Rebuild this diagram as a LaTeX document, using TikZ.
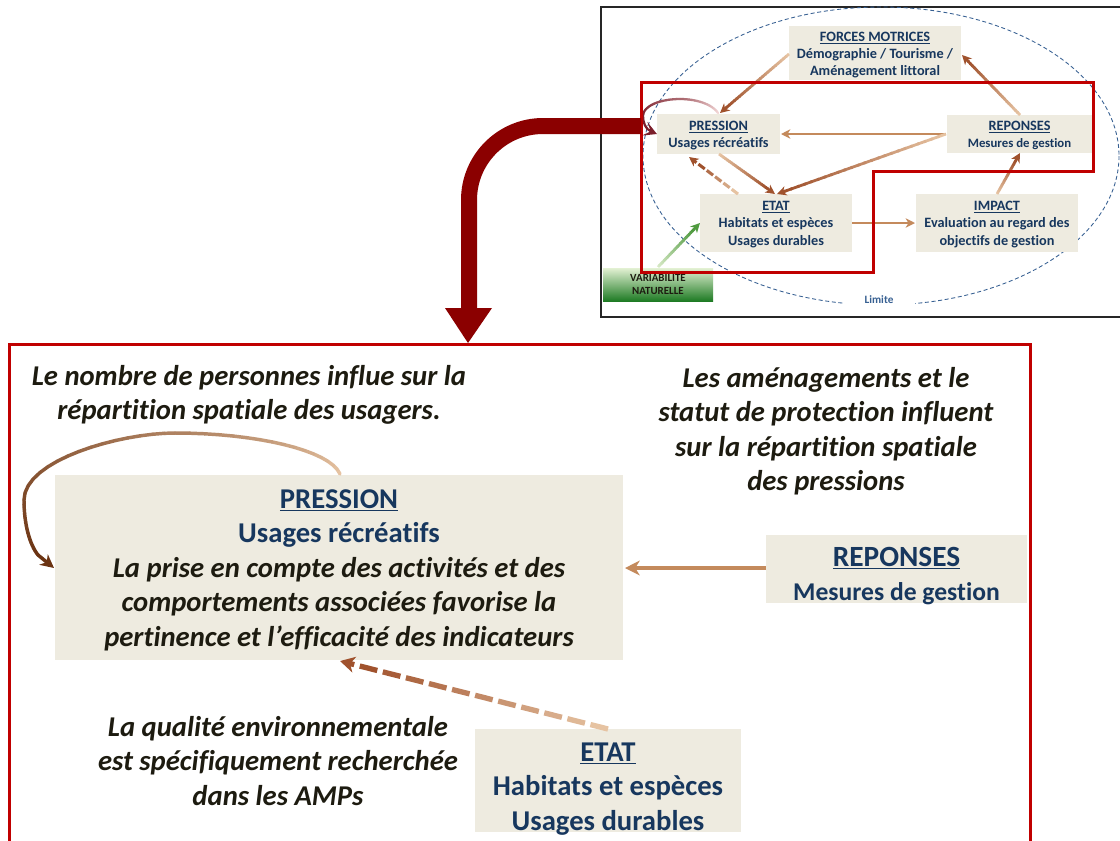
\documentclass[tikz,border=0pt]{standalone}
\usepackage{fontspec}
\setmainfont[Ligatures={NoCommon}]{Carlito}
\usetikzlibrary{calc,arrows.meta}
\definecolor{boxfill}{HTML}{EEEBE0}
\definecolor{navy}{HTML}{17375E}
\definecolor{inkb}{HTML}{1D1B10}
\definecolor{redline}{HTML}{C00000}
\definecolor{bigred}{HTML}{8B0000}
\definecolor{ellblue}{HTML}{376092}
\definecolor{lightbrown}{HTML}{E6C3A2}
\definecolor{darkbrown}{HTML}{A0522D}
\definecolor{deepbrown}{HTML}{6B3312}
\definecolor{midbrown}{HTML}{C48A5C}
\definecolor{paleleaf}{HTML}{D5E8C4}
\definecolor{leaf}{HTML}{4F9A3F}
\definecolor{palepink}{HTML}{F2D6D6}
\definecolor{maroon}{HTML}{7B1F2B}
\definecolor{topgreen}{HTML}{E3F1D3}
\definecolor{botgreen}{HTML}{1E7B24}
\tikzset{
  x=0.75pt,y=-0.75pt,
  panel/.style={fill=boxfill,inner sep=0pt},
  stext/.style={inner sep=0pt,align=center,text=navy,font=\bfseries\fontsize{10.7}{12.9}\selectfont},
  btext/.style={inner sep=0pt,align=center,text=navy,font=\bfseries\fontsize{21.5}{25.9}\selectfont},
  note/.style={inner sep=0pt,align=center,text=inkb,font=\bfseries\itshape\fontsize{21.5}{25.9}\selectfont},
}
\newcommand{\titre}[1]{\underline{#1}}
\newcommand{\gradarrow}[7]{% from,to,light,dark,width,tiplen,tipwidth
  \coordinate (tl) at ($(#2)!#6!(#1)$);
  \foreach \i in {0,...,23}{
    \pgfmathtruncatemacro{\p}{100*\i/23}
    \pgfmathsetmacro{\s}{\i/24}
    \pgfmathsetmacro{\e}{(\i+1.3)/24}
    \draw[line width=#5,draw=#4!\p!#3] ($(#1)!\s!(tl)$) -- ($(#1)!\e!(tl)$);
  }
  \draw[line width=#5,draw=#4,-{Stealth[length=#6,width=#7,inset=0.3*#6]}] (tl) -- (#2);
}
\newcommand{\dashgrad}[8]{% from,to,light,dark,width,tiplen,tipwidth,count
  \coordinate (tl) at ($(#2)!#6!(#1)$);
  \pgfmathtruncatemacro{\last}{#8-1}
  \foreach \i in {0,...,\last}{
    \pgfmathtruncatemacro{\p}{100*\i/\last}
    \pgfmathsetmacro{\s}{\i/#8}
    \pgfmathsetmacro{\e}{(\i+0.76)/#8}
    \draw[line width=#5,draw=#4!\p!#3] ($(#1)!\s!(tl)$) -- ($(#1)!\e!(tl)$);
  }
  \draw[line width=#5,draw=#4,-{Stealth[length=#6,width=#7,inset=0.3*#6]}] (tl) -- (#2);
}
% one cubic piece of a curve, colour from pct A to pct B
\newcommand{\bezpiece}[9]{%
  \foreach \i in {0,...,15}{
    \pgfmathsetmacro{\ta}{\i/16}
    \pgfmathsetmacro{\tb}{(\i+1)/16}
    \pgfmathtruncatemacro{\p}{\curvea+(\curveb-\curvea)*\i/15}
    \pgfmathsetmacro{\xa}{(1-\ta)^3*#1+3*(1-\ta)^2*\ta*#3+3*(1-\ta)*\ta^2*#5+\ta^3*#7}
    \pgfmathsetmacro{\ya}{(1-\ta)^3*#2+3*(1-\ta)^2*\ta*#4+3*(1-\ta)*\ta^2*#6+\ta^3*#8}
    \pgfmathsetmacro{\xb}{(1-\tb)^3*#1+3*(1-\tb)^2*\tb*#3+3*(1-\tb)*\tb^2*#5+\tb^3*#7}
    \pgfmathsetmacro{\yb}{(1-\tb)^3*#2+3*(1-\tb)^2*\tb*#4+3*(1-\tb)*\tb^2*#6+\tb^3*#8}
    \draw[line width=#9,line cap=round,draw=\curved!\p!\curvel] (\xa,\ya) -- (\xb,\yb);
  }
}
\begin{document}
\begin{tikzpicture}
\useasboundingbox (0,0) rectangle (1120,840);
\clip (0,0) rectangle (1120,840);
\fill[white] (0,0) rectangle (1120,840);

% inset
\draw[line width=1.1pt,draw=black!85] (601,7) rectangle (1126,317);
\draw[densely dashed,ellblue,line width=0.65pt] (881,156) ellipse [x radius=238,y radius=149];
\node[fill=white,inner sep=0pt,minimum width=54pt,minimum height=16.5pt,text=ellblue,font=\bfseries\fontsize{8.4}{9}\selectfont] (limite) at (879,300) {Limite};

\node[panel,minimum width=129pt,minimum height=40.5pt] (fm) at (875,53) {};
\node[stext] (fmt) at (875,55) {\titre{FORCES MOTRICES}\\Démographie / Tourisme /\\Aménagement littoral};
\node[panel,minimum width=92pt,minimum height=30pt] (ps) at (718.5,134) {};
\node[stext] (pst) at (718.5,135.5) {\titre{PRESSION}\\Usages récréatifs};
\node[panel,minimum width=109pt,minimum height=28.5pt] (rs) at (1019.5,134) {};
\node[stext,font=\bfseries\fontsize{10.7}{12.6}\selectfont] (rst) at (1019.5,135.5) {\titre{REPONSES}\\{\fontsize{9.6}{11}\selectfont Mesures de gestion}};
\node[panel,minimum width=114pt,minimum height=43.5pt] (es) at (776,223) {};
\node[stext] (est) at (776,224.5) {\titre{ETAT}\\Habitats et espèces\\Usages durables};
\node[panel,minimum width=121.5pt,minimum height=43.5pt] (is) at (997,223) {};
\node[stext] (ist) at (997,224.5) {\titre{IMPACT}\\Evaluation au regard des\\objectifs de gestion};
\node[top color=topgreen,bottom color=botgreen,inner sep=0pt,minimum width=82.5pt,minimum height=24.75pt,align=center,text=inkb,font=\bfseries\fontsize{8.2}{9.9}\selectfont] (vn) at (658,284.5) {VARIABILITE\\NATURELLE};

% inset connector ends
\coordinate (fmA) at (789,54); \coordinate (psA) at (720,113);
\coordinate (rsA) at (1020,115); \coordinate (fmB) at (962,55);
\coordinate (rsB) at (946,134); \coordinate (psB) at (781,134);
\coordinate (esA) at (777,194);
\coordinate (psC) at (719,154); \coordinate (esB) at (775,194);
\coordinate (esC) at (738,194); \coordinate (psD) at (689,157);
\coordinate (esD) at (852,223); \coordinate (isA) at (915,223);
\coordinate (isB) at (997,194); \coordinate (rsC) at (1020,153);
\coordinate (vnA) at (658,267); \coordinate (esE) at (700,223);

\gradarrow{fmA}{psA}{lightbrown}{darkbrown}{2.1pt}{7pt}{7pt}
\gradarrow{rsA}{fmB}{lightbrown}{darkbrown}{2.1pt}{7pt}{7pt}
\draw[line width=2.1pt,midbrown,-{Stealth[length=7pt,width=7pt,inset=2.1pt]}] (rsB) -- (psB);
\gradarrow{rsB}{esA}{lightbrown}{darkbrown}{2.1pt}{7pt}{7pt}
\gradarrow{psC}{esB}{lightbrown}{darkbrown}{2.1pt}{7pt}{7pt}
\draw[line width=2.1pt,midbrown,-{Stealth[length=7pt,width=7pt,inset=2.1pt]}] (esD) -- (isA);
\gradarrow{isB}{rsC}{lightbrown}{darkbrown}{2.1pt}{7pt}{7pt}
\gradarrow{vnA}{esE}{paleleaf}{leaf}{2.1pt}{7pt}{7pt}
\dashgrad{esC}{psD}{lightbrown}{darkbrown}{2.3pt}{7pt}{7pt}{5}

% small loop
\def\curvel{palepink}\def\curved{maroon}
\def\curvea{0}\def\curveb{60}
\bezpiece{718}{113}{712}{104}{696}{99}{680}{99}{1.7pt}
\def\curvea{60}\def\curveb{100}
\bezpiece{680}{99}{660}{99}{643}{106}{643}{116}{1.7pt}
\draw[line width=1.7pt,maroon,-{Stealth[length=10pt,width=11pt,inset=5pt]}] (643,116) .. controls (643,122) and (645,129) .. (ps.west);

% red outline on the inset
\draw[redline,line width=2.25pt,line join=miter] (641,82) -- (1093,82) -- (1093,171) -- (873,171) -- (873,272) -- (641,272) -- cycle;

% big red connector
\coordinate (bgA) at (641,126);
\coordinate (bgB) at (469,309);
\coordinate (bgT) at (468,343);
\draw[bigred,line width=12pt] (bgA) -- (543,126) arc[start angle=90,end angle=180,radius=55.5pt] -- (bgB);
\fill[bigred] (445,308) -- (492,308) -- (bgT) -- cycle;

% lower panel
\draw[redline,line width=2.25pt] (9,344) rectangle (1030,844);

\node[note] (n1) at (249,395) {Le nombre de personnes influe sur la\\répartition spatiale des usagers.};
\node[note] (n2) at (826,431) {Les aménagements et le\\statut de protection influent\\sur la répartition spatiale\\des pressions};
\node[note] (n3) at (278,761) {La qualité environnementale\\est spécifiquement recherchée\\dans les AMPs};

\node[panel,minimum width=426pt,minimum height=138.75pt] (pb) at (339,567.5) {};
\node[btext] (pbt) at (339,570) {\titre{PRESSION}\\Usages récréatifs\\{\color{inkb}\itshape La prise en compte des activités et des}\\{\color{inkb}\itshape comportements associées favorise la}\\{\color{inkb}\itshape pertinence et l’efficacité des indicateurs}};
\node[panel,minimum width=195.75pt,minimum height=51pt] (rb) at (896.5,569) {};
\node[btext] (rbt) at (896.5,576) {{\fontsize{22}{24}\selectfont\titre{REPONSES}}\\{\fontsize{19.2}{24}\selectfont Mesures de gestion}};
\node[panel,minimum width=199.5pt,minimum height=77.25pt] (eb) at (608,780.5) {};
\node[btext] (ebt) at (608,789) {\titre{ETAT}\\Habitats et espèces\\Usages durables};

\coordinate (rbA) at (766,568); \coordinate (pbA) at (625,568);
\coordinate (ebA) at (608,729); \coordinate (pbB) at (340,661);
\draw[line width=3.6pt,midbrown,-{Stealth[length=11pt,width=11pt,inset=3.3pt]}] (rbA) -- (pbA);
\dashgrad{ebA}{pbB}{lightbrown}{darkbrown}{4pt}{11pt}{12pt}{11}

\def\curvel{lightbrown}\def\curved{deepbrown}
\def\curvea{0}\def\curveb{45}
\bezpiece{340}{474}{330}{450}{255}{433}{175}{433}{2.6pt}
\def\curvea{45}\def\curveb{85}
\bezpiece{175}{433}{120}{433}{24}{460}{24}{500}{2.6pt}
\def\curvea{85}\def\curveb{100}
\bezpiece{24}{500}{24}{525}{30}{545}{38}{555}{2.6pt}
\coordinate (lpA) at (38,555); \coordinate (lpB) at (54,568);
\draw[line width=2.6pt,deepbrown,-{Stealth[length=10pt,width=10pt,inset=3pt]}] (lpA) -- (lpB);
\end{tikzpicture}
\end{document}
